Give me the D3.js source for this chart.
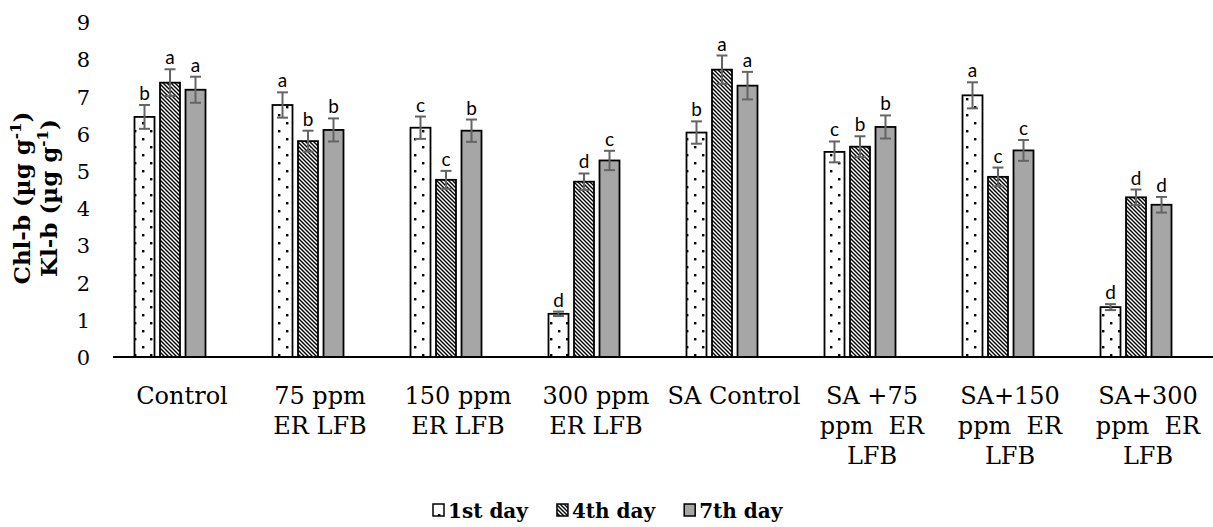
<!DOCTYPE html>
<html>
<head>
<meta charset="utf-8">
<title>Chl-b</title>
<style>
body {
  margin: 0;
  background: #fff;
}
svg text {
  font-family: "DejaVu Serif", serif;
}
.tick text {
  font-size: 21px;
  fill: #000;
}
.cat text {
  font-size: 24px;
  fill: #000;
  white-space: pre;
}
.letter {
  font-family: Lato, "Open Sans", sans-serif !important;
  font-size: 19px;
  fill: #000;
}
.ytitle, .legend text {
  font-weight: bold;
  fill: #000;
}
</style>
</head>
<body>
<svg id="chart" width="1213" height="527"></svg>
<script src="https://d3js.org/d3.v7.min.js"></script>
<script>

// --- data ---
const categories = [
  ["Control"],
  ["75 ppm", "ER LFB"],
  ["150 ppm", "ER LFB"],
  ["300 ppm", "ER LFB"],
  ["SA Control"],
  ["SA +75", "ppm  ER", "LFB"],
  ["SA+150", "ppm  ER", "LFB"],
  ["SA+300", "ppm  ER", "LFB"]
];
const seriesNames = ["1st day", "4th day", "7th day"];

const day1 = [6.45, 6.77, 6.16, 1.16, 6.03, 5.51, 7.03, 1.34];
const day4 = [7.37, 5.80, 4.76, 4.71, 7.72, 5.65, 4.84, 4.29];
const day7 = [7.18, 6.10, 6.08, 5.28, 7.29, 6.18, 5.55, 4.09];

const err1 = [0.32, 0.34, 0.30, 0.06, 0.30, 0.28, 0.35, 0.08];
const err4 = [0.36, 0.28, 0.24, 0.22, 0.38, 0.28, 0.25, 0.21];
const err7 = [0.35, 0.31, 0.30, 0.26, 0.37, 0.31, 0.28, 0.21];

const let1 = ["b", "a", "c", "d", "b", "c", "a", "d"];
const let4 = ["a", "b", "c", "d", "a", "b", "c", "d"];
const let7 = ["a", "b", "b", "c", "a", "b", "c", "d"];

const yTicks = [0, 1, 2, 3, 4, 5, 6, 7, 8, 9];

const values = [day1, day4, day7];
const errors = [err1, err4, err7];
const letters = [let1, let4, let7];
const fills = ["url(#dots)", "url(#hatch)", "#a6a6a6"];

const W = 1213, H = 527;
const svg = d3.select("#chart");

// patterns
const defs = svg.append("defs");
let pd = defs.append("pattern")
    .attr("id", "dots")
    .attr("patternUnits", "userSpaceOnUse")
    .attr("x", 6).attr("y", 2)
    .attr("width", 16).attr("height", 16);
pd.append("rect").attr("width", 16).attr("height", 16).attr("fill", "#fff");
pd.append("rect").attr("x", 0).attr("y", 0).attr("width", 2.4).attr("height", 2.4).attr("fill", "#000");
pd.append("rect").attr("x", 8).attr("y", 8).attr("width", 2.4).attr("height", 2.4).attr("fill", "#000");

let ph = defs.append("pattern")
    .attr("id", "hatch")
    .attr("patternUnits", "userSpaceOnUse")
    .attr("width", 4).attr("height", 4);
ph.append("rect").attr("width", 4).attr("height", 4).attr("fill", "#fff");
ph.append("path")
    .attr("d", "M-1,-1L5,5M-1,3L1,5M3,-1L5,1")
    .attr("stroke", "#000")
    .attr("stroke-width", 1.4);

// scales
const x = d3.scaleBand()
    .domain(d3.range(categories.length))
    .range([101, 1205])
    .paddingInner(0).paddingOuter(0);

const xs = d3.scaleBand()
    .domain(d3.range(seriesNames.length))
    .range([33.5, 104.5])
    .paddingInner(0.216);

const y = d3.scaleLinear()
    .domain([0, 9])
    .range([357, 22]);

// y axis
const yAxis = svg.append("g")
    .attr("transform", "translate(100,0)")
    .call(d3.axisLeft(y).tickValues(yTicks).tickSize(0).tickPadding(10));
yAxis.select(".domain").remove();
yAxis.selectAll(".tick text").attr("dy", "0.36em");

// bars
seriesNames.forEach(function(name, s) {
  let g = svg.append("g").attr("class", "series" + s);

  g.selectAll("rect")
    .data(values[s])
    .enter().append("rect")
      .attr("x", function(d, i) { return x(i) + xs(s); })
      .attr("y", function(d) { return y(d); })
      .attr("width", xs.bandwidth())
      .attr("height", function(d) { return y(0) - y(d); })
      .attr("fill", fills[s])
      .attr("stroke", "#000")
      .attr("stroke-width", 1.8);

  // error bars
  let eb = g.selectAll(".err")
    .data(values[s])
    .enter().append("g")
      .attr("class", "err")
      .attr("stroke", "#646464")
      .attr("stroke-width", 2);
  let cx = function(i) { return x(i) + xs(s) + xs.bandwidth() / 2; };
  eb.append("line")
      .attr("x1", function(d, i) { return cx(i); })
      .attr("x2", function(d, i) { return cx(i); })
      .attr("y1", function(d, i) { return y(d + errors[s][i]); })
      .attr("y2", function(d, i) { return y(d - errors[s][i]); });
  [1, -1].forEach(function(sign) {
    eb.append("line")
      .attr("x1", function(d, i) { return cx(i) - 5.5; })
      .attr("x2", function(d, i) { return cx(i) + 5.5; })
      .attr("y1", function(d, i) { return y(d + sign * errors[s][i]); })
      .attr("y2", function(d, i) { return y(d + sign * errors[s][i]); });
  });

  // significance letters
  g.selectAll(".letter")
    .data(values[s])
    .enter().append("text")
      .attr("class", "letter")
      .attr("text-anchor", "middle")
      .attr("x", function(d, i) { return cx(i); })
      .attr("y", function(d, i) { return y(d + errors[s][i]) - 5; })
      .text(function(d, i) { return letters[s][i]; });
});

// baseline
svg.append("line")
    .attr("x1", 113).attr("x2", W)
    .attr("y1", y(0)).attr("y2", y(0))
    .attr("stroke", "#000")
    .attr("stroke-width", 2);

// category labels (sit a little right of the bar groups, as in the original)
const xAxis = svg.append("g")
    .attr("class", "cat")
    .attr("transform", "translate(12," + y(0) + ")")
    .call(d3.axisBottom(x).tickSize(0).tickFormat(""));
xAxis.select(".domain").remove();
xAxis.selectAll(".tick text")
    .attr("y", 0).attr("dy", null)
    .each(function(i) {
      let t = d3.select(this);
      categories[i].forEach(function(line, k) {
        t.append("tspan")
          .attr("x", 0)
          .attr("y", 47 + k * 30)
          .text(line);
      });
    });

// y title
const yt = svg.append("text")
    .attr("class", "ytitle")
    .attr("font-size", 23)
    .attr("text-anchor", "middle")
    .attr("transform", "translate(0,198) rotate(-90)");
[["Chl-b (µg g", 30], ["Kl-b (µg g", 57]].forEach(function(p) {
  yt.append("tspan").attr("x", 0).attr("y", p[1]).text(p[0]);
  yt.append("tspan").attr("dy", -9).attr("font-size", 15).text("-1");
  yt.append("tspan").attr("dy", 9).text(")");
});

// legend
const legend = svg.append("g").attr("class", "legend");
let lx = 433;
seriesNames.forEach(function(name, s) {
  legend.append("rect")
    .attr("x", lx).attr("y", 504)
    .attr("width", 11).attr("height", 12)
    .attr("fill", fills[s])
    .attr("stroke", "#000")
    .attr("stroke-width", 1.5);
  let t = legend.append("text")
    .attr("x", lx + 15).attr("y", 518)
    .attr("font-size", 20)
    .text(name);
  lx += 15 + t.node().getComputedTextLength() + 29;
});

</script>
</body>
</html>
